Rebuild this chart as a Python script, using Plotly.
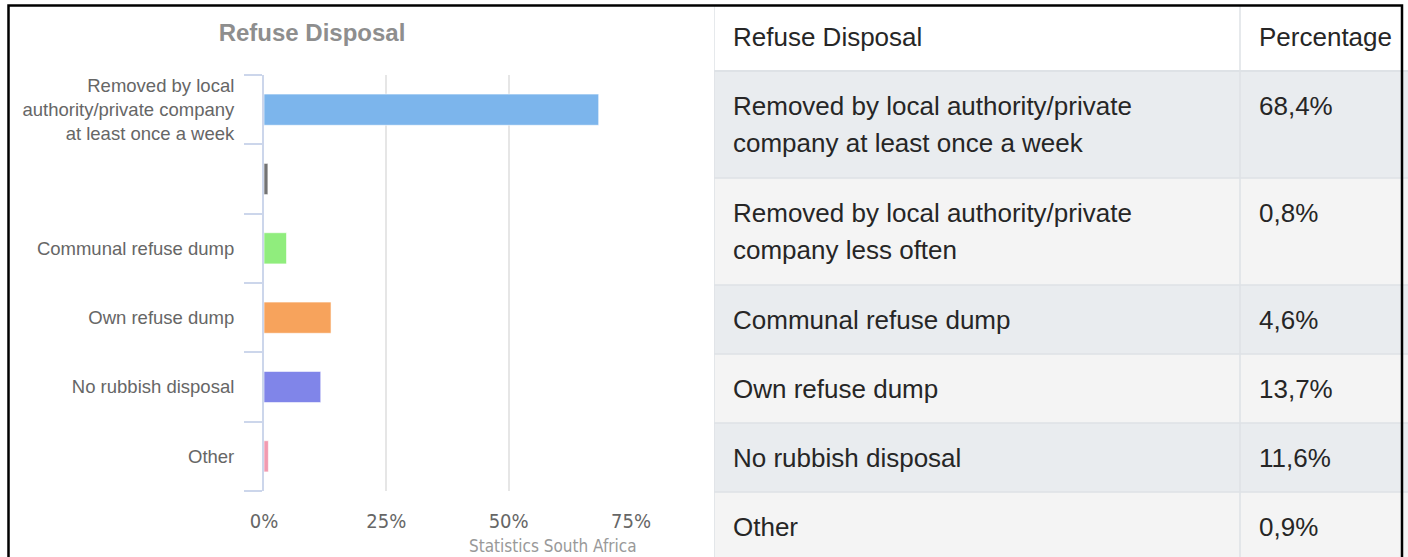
import plotly.graph_objects as go

# data
categories = [
    "Removed by local authority/private company at least once a week",
    "Removed by local authority/private company less often",
    "Communal refuse dump",
    "Own refuse dump",
    "No rubbish disposal",
    "Other",
]
chart_labels = [
    "Removed by local<br>authority/private company<br>at least once a week",
    "",
    "Communal refuse dump",
    "Own refuse dump",
    "No rubbish disposal",
    "Other",
]
table_lines = [
    ["Removed by local authority/private", "company at least once a week"],
    ["Removed by local authority/private", "company less often"],
    ["Communal refuse dump"],
    ["Own refuse dump"],
    ["No rubbish disposal"],
    ["Other"],
]
percentages = [68.4, 0.8, 4.6, 13.7, 11.6, 0.9]
bar_colors = ["#7cb5ec", "#737373", "#90ed7d", "#f7a35c", "#8085e9", "#f29ab0"]
x_ticks = [0, 25, 50, 75]
table_header = ["Refuse Disposal", "Percentage"]

W, H = 1408, 557
pos = list(range(len(categories)))

fig = go.Figure()

fig.add_trace(go.Bar(
    x=percentages, y=pos, orientation="h",
    marker=dict(color=bar_colors, line=dict(color="rgba(255,255,255,0.6)", width=1)),
    width=0.45, showlegend=False, hoverinfo="x",
    hovertext=categories,
))

fig.update_layout(
    width=W, height=H, autosize=False,
    margin=dict(l=0, r=0, t=0, b=0, pad=0, autoexpand=False),
    paper_bgcolor="white", plot_bgcolor="white",
    title=dict(text="<b>Refuse Disposal</b>", x=312 / W, xref="paper", xanchor="center",
               y=1 - 33 / H, yref="paper", yanchor="middle",
               font=dict(family="Liberation Sans, Arial", size=24, color="#8e8e8e")),
    xaxis=dict(domain=[264 / W, 631 / W], range=[0, 75],
               tickmode="array", tickvals=x_ticks, ticktext=[f"{v}%" for v in x_ticks],
               showgrid=True, gridcolor="#e6e6e6", gridwidth=2, zeroline=False,
               showline=False, ticks="", ticklabelstandoff=16, automargin=False,
               tickfont=dict(family="DejaVu Sans Condensed, DejaVu Sans", size=20, color="#666666")),
    yaxis=dict(domain=[(H - 491) / H, (H - 75) / H], range=[len(pos) - 0.5, -0.5],
               tickmode="array", tickvals=pos, ticktext=chart_labels, automargin=False,
               showgrid=False, zeroline=False, showline=True, linecolor="#ccd6eb", linewidth=2,
               ticks="", ticklabelstandoff=24,
               tickfont=dict(family="Liberation Sans, Arial", size=18.5, color="#666666"),
               minor=dict(tickmode="array", tickvals=[p - 0.5 for p in pos] + [pos[-1] + 0.5],
                          ticks="outside", ticklen=18, tickwidth=2, tickcolor="#ccd6eb",
                          showgrid=False)),
    # table region, units in px inside its domain
    xaxis2=dict(domain=[714 / W, 1.0], range=[0, W - 714], visible=False, fixedrange=True,
                anchor="y2", automargin=False),
    yaxis2=dict(domain=[0, (H - 6) / H], range=[H - 6, 0], visible=False, fixedrange=True,
                anchor="x2", automargin=False),
)

# table
col_split = 526
pad = 17
header_h = 65
row_fills = ["#e9ecef", "#f4f4f4"]
tfont = dict(family="Liberation Sans, Arial", size=26, color="#262626")
shapes = []
annotations = []

shapes.append(dict(type="rect", xref="x2", yref="y2", x0=0, x1=W - 714, y0=0, y1=header_h,
                   fillcolor="white", line=dict(width=0), layer="below"))
for j, htxt in enumerate(table_header):
    annotations.append(dict(xref="x2", yref="y2", x=(0 if j == 0 else col_split) + pad, y=31,
                            text=htxt, showarrow=False, xanchor="left", yanchor="middle", font=tfont))

top = header_h
bounds = [top]
for i, lines in enumerate(table_lines):
    h = 69 + 38 * (len(lines) - 1)
    shapes.append(dict(type="rect", xref="x2", yref="y2", x0=0, x1=W - 714, y0=top, y1=top + h,
                       fillcolor=row_fills[i % 2], line=dict(width=0), layer="below"))
    for k, ln in enumerate(lines):
        annotations.append(dict(xref="x2", yref="y2", x=pad, y=top + 35 + 37 * k, text=ln,
                                showarrow=False, xanchor="left", yanchor="middle", font=tfont))
    pct = f"{percentages[i]:.1f}%".replace(".", ",")
    annotations.append(dict(xref="x2", yref="y2", x=col_split + pad, y=top + 35, text=pct,
                            showarrow=False, xanchor="left", yanchor="middle", font=tfont))
    top += h
    bounds.append(top)

for b in bounds:
    shapes.append(dict(type="line", xref="x2", yref="y2", x0=0, x1=W - 714, y0=b, y1=b,
                       line=dict(color="#dee2e6", width=2 if b == header_h else 1.5)))
for xv in [0, col_split]:
    shapes.append(dict(type="line", xref="x2", yref="y2", x0=xv, x1=xv, y0=0, y1=H,
                       line=dict(color="#dee2e6", width=1.5)))

# credit
annotations.append(dict(xref="paper", yref="paper", x=639 / W, y=(H - 546) / H,
                        text="Statistics South Africa", showarrow=False,
                        xanchor="right", yanchor="middle",
                        font=dict(family="DejaVu Sans Condensed, DejaVu Sans", size=17, color="#999999")))

# outer frame of the screenshot
shapes.append(dict(type="rect", xref="paper", yref="paper", x0=8.5 / W, x1=1402 / W,
                   y0=-0.05, y1=1 - 5.5 / H, line=dict(color="black", width=2.5),
                   fillcolor="rgba(0,0,0,0)"))

fig.update_layout(shapes=shapes, annotations=annotations)

# page body has a default 8px margin; drop it so the figure sits at 0,0
fig.write_html("out.html", config={"displayModeBar": False, "responsive": False},
               post_script="document.body.style.margin='0';")
